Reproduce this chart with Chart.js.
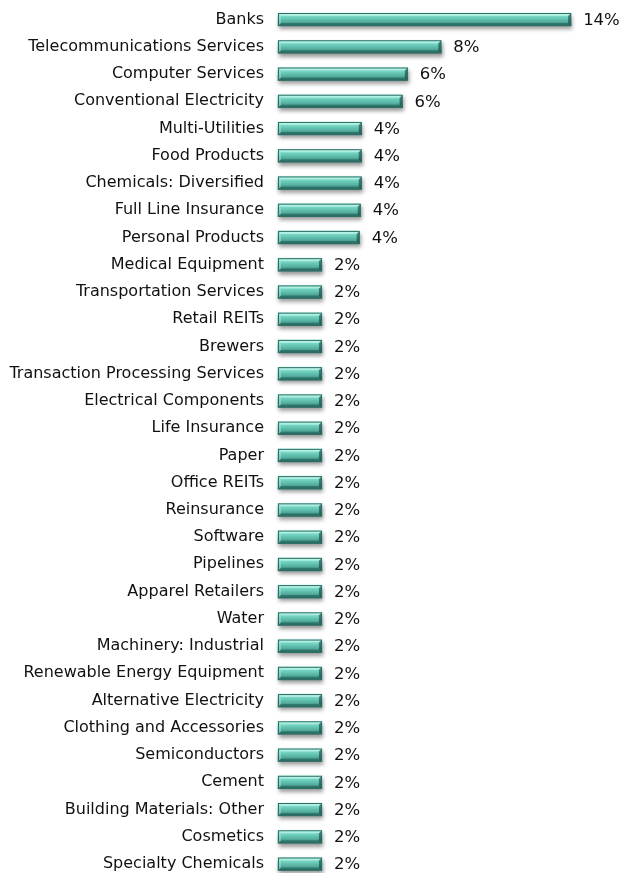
<!DOCTYPE html>
<html>
<head>
<meta charset="utf-8">
<script src="https://cdn.jsdelivr.net/npm/chart.js@4"></script>
<style>
  html, body { margin: 0; padding: 0; background: #fff; }
  #wrap { width: 626px; height: 873px; }
</style>
</head>
<body>
<div id="wrap"><canvas id="chart-sectors"></canvas></div>
<script>
const sectors = [
  'Banks', 'Telecommunications Services', 'Computer Services', 'Conventional Electricity',
  'Multi-Utilities', 'Food Products', 'Chemicals: Diversified', 'Full Line Insurance',
  'Personal Products', 'Medical Equipment', 'Transportation Services', 'Retail REITs',
  'Brewers', 'Transaction Processing Services', 'Electrical Components', 'Life Insurance',
  'Paper', 'Office REITs', 'Reinsurance', 'Software', 'Pipelines', 'Apparel Retailers',
  'Water', 'Machinery: Industrial', 'Renewable Energy Equipment', 'Alternative Electricity',
  'Clothing and Accessories', 'Semiconductors', 'Cement', 'Building Materials: Other',
  'Cosmetics', 'Specialty Chemicals'
];

const weights = [
  14.0, 7.8, 6.2, 5.95,
  4.0, 4.0, 4.0, 3.95,
  3.9, 2.1, 2.1, 2.1,
  2.1, 2.1, 2.1, 2.1,
  2.1, 2.1, 2.1, 2.1, 2.1, 2.1,
  2.1, 2.1, 2.1, 2.1,
  2.1, 2.1, 2.1, 2.1,
  2.1, 2.1
];

const valueLabels = weights.map(v => Math.round(v) + '%');

// gradient fill per bar, built from the bar's own pixel row
function barFill(context) {
  const chart = context.chart;
  if (!chart.chartArea) return '#5fbfae';
  const y = chart.scales.y.getPixelForValue(context.dataIndex);
  const g = chart.ctx.createLinearGradient(0, y - 6.5, 0, y + 6.5);
  g.addColorStop(0, '#a6f2e2');
  g.addColorStop(0.3, '#72d3c0');
  g.addColorStop(0.65, '#55b0a0');
  g.addColorStop(1, '#347e73');
  return g;
}

const barShadow = {
  id: 'barShadow',
  beforeDatasetDraw(chart) {
    const ctx = chart.ctx;
    ctx.save();
    ctx.shadowColor = 'rgba(0,0,0,0.4)';
    ctx.shadowOffsetY = 3;
    ctx.shadowOffsetX = 1;
    ctx.shadowBlur = 4;
  },
  afterDatasetDraw(chart) {
    chart.ctx.restore();
  }
};

const bevelAndLabels = {
  id: 'bevelAndLabels',
  afterDatasetsDraw(chart) {
    const ctx = chart.ctx;
    const meta = chart.getDatasetMeta(0);
    const b = 3;
    ctx.save();
    meta.data.forEach((bar, i) => {
      const l = bar.base, r = bar.x;
      const t = bar.y - bar.height / 2, btm = bar.y + bar.height / 2;

      ctx.fillStyle = 'rgba(220,255,248,0.45)';
      ctx.beginPath();
      ctx.moveTo(l, t); ctx.lineTo(r, t); ctx.lineTo(r - b, t + b); ctx.lineTo(l + b, t + b);
      ctx.closePath(); ctx.fill();

      ctx.fillStyle = 'rgba(0,45,40,0.3)';
      ctx.beginPath();
      ctx.moveTo(l, btm); ctx.lineTo(r, btm); ctx.lineTo(r - b, btm - b); ctx.lineTo(l + b, btm - b);
      ctx.closePath(); ctx.fill();

      ctx.fillStyle = 'rgba(170,240,225,0.45)';
      ctx.beginPath();
      ctx.moveTo(l, t); ctx.lineTo(l + b, t + b); ctx.lineTo(l + b, btm - b); ctx.lineTo(l, btm);
      ctx.closePath(); ctx.fill();

      ctx.fillStyle = 'rgba(0,40,35,0.5)';
      ctx.beginPath();
      ctx.moveTo(r, t); ctx.lineTo(r - b, t + b); ctx.lineTo(r - b, btm - b); ctx.lineTo(r, btm);
      ctx.closePath(); ctx.fill();

      ctx.strokeStyle = '#2f6e66';
      ctx.lineWidth = 1;
      ctx.strokeRect(l + 0.5, t + 0.5, r - l - 1, btm - t - 1);

      ctx.fillStyle = '#111';
      ctx.font = '16.5px "DejaVu Sans"';
      ctx.textAlign = 'left';
      ctx.textBaseline = 'middle';
      ctx.fillText(valueLabels[i], r + 12, bar.y + 1);
    });
    ctx.restore();
  }
};

new Chart(document.getElementById('chart-sectors'), {
  type: 'bar',
  data: {
    labels: sectors,
    datasets: [{
      data: weights,
      backgroundColor: barFill,
      borderWidth: 0,
      barThickness: 13,
      clip: false
    }]
  },
  options: {
    indexAxis: 'y',
    responsive: true,
    maintainAspectRatio: false,
    animation: false,
    layout: { padding: { top: 19.5, bottom: 9, left: 0, right: 13 } },
    plugins: {
      legend: { display: false },
      tooltip: { enabled: false },
      title: { display: false }
    },
    scales: {
      x: {
        display: false,
        min: 0,
        max: 16
      },
      y: {
        offset: false,
        grid: { display: false, drawTicks: false },
        border: { display: false },
        ticks: {
          padding: 14,
          color: '#111',
          autoSkip: false,
          font: { family: 'DejaVu Sans', size: 16 }
        },
        afterFit(scale) {
          scale.width = 278;
          scale.paddingTop = 0;
          scale.paddingBottom = 0;
        }
      }
    }
  },
  plugins: [barShadow, bevelAndLabels]
});
</script>
</body>
</html>
